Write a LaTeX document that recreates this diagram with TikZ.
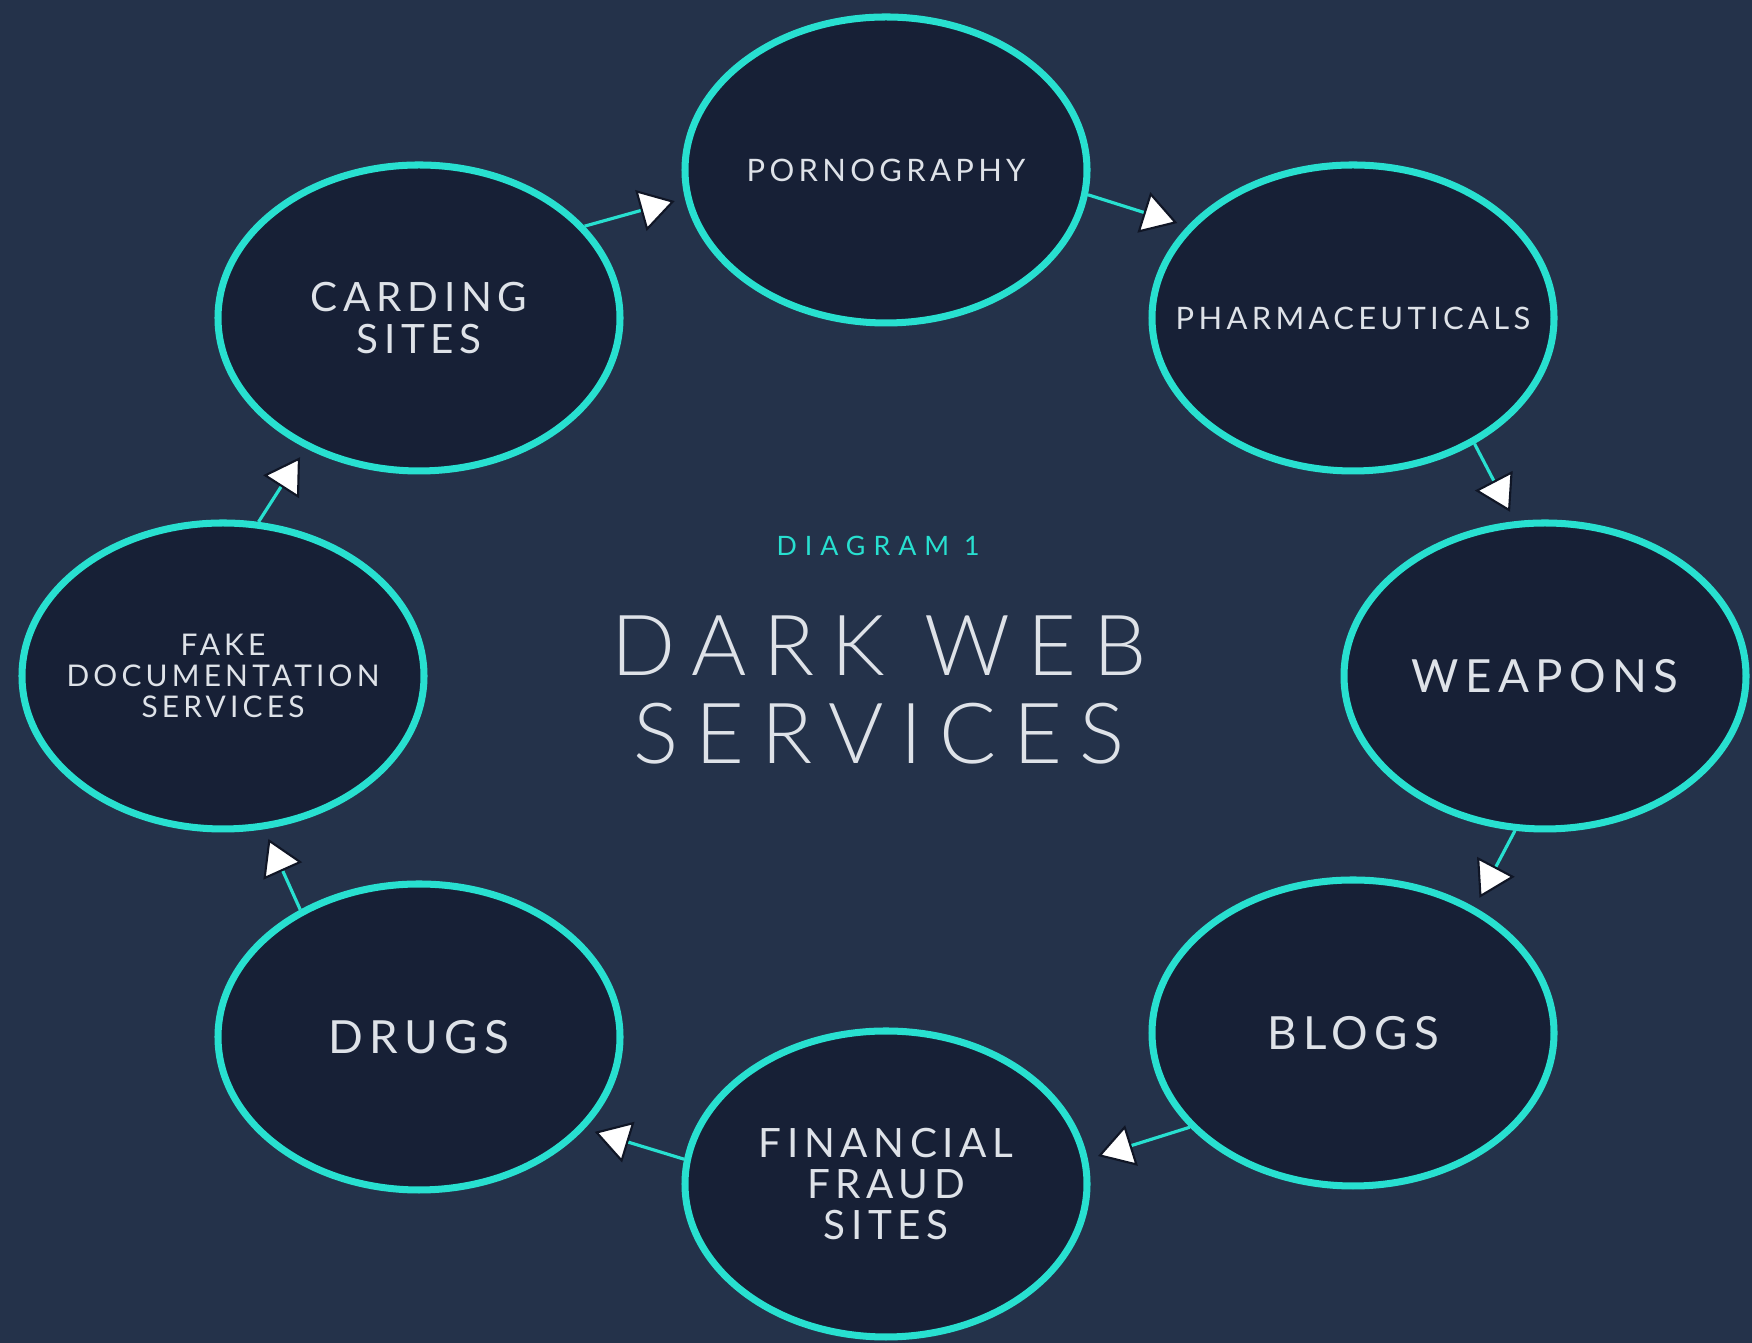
\documentclass[tikz,border=0pt]{standalone}
\usepackage{fontspec}
\setmainfont{Lato}[LetterSpace=14]
\newfontfamily\titlefont{Lato Light}[LetterSpace=20]
\newfontfamily\tagfont{Lato}[LetterSpace=30]
\usepackage{tikz}
\usetikzlibrary{shapes.geometric, arrows.meta, positioning}
\definecolor{mybg}{RGB}{36,50,74}
\definecolor{mynavy}{RGB}{23,32,54}
\definecolor{myteal}{RGB}{40,224,208}
\definecolor{mytext}{RGB}{222,226,232}
\definecolor{myshade}{RGB}{16,22,38}
\tikzset{
  service/.style={ellipse, draw=myteal, fill=mynavy, line width=2pt,
    minimum width=4.02cm, minimum height=3.06cm, inner sep=0pt},
  servtext/.style={align=center, text=mytext, inner sep=0pt,
    font=\fontsize{11.5}{11.7}\selectfont},
  smalltext/.style={servtext, font=\fontsize{8.8}{9}\selectfont},
  bigtext/.style={servtext, font=\fontsize{13}{14}\selectfont},
  arrow/.style={-{Triangle[length=10pt, width=12pt, fill=white, color=myshade, line width=0.6pt]},
    line width=0.9pt, color=myteal, shorten >=3pt}
}

\begin{document}
\begin{tikzpicture}
  % Background
  \fill[mybg] (0,0) rectangle (17.52,13.43);
  \useasboundingbox (0,0) rectangle (17.52,13.43);

  % Services round the ring
  \node[service, label={[smalltext]center:PORNOGRAPHY}] (porn) at (8.86,11.73) {};
  \node[service, label={[smalltext]center:PHARMACEUTICALS}] (pharm) at (13.53,10.25) {};
  \node[service, label={[bigtext]center:WEAPONS}] (weapons) at (15.45,6.67) {};
  \node[service, label={[bigtext]center:BLOGS}] (blogs) at (13.53,3.10) {};
  \node[service, label={[servtext]center:FINANCIAL\\FRAUD\\SITES}] (fraud) at (8.86,1.59) {};
  \node[service, label={[bigtext]center:DRUGS}] (drugs) at (4.19,3.06) {};
  \node[service, label={[servtext, font=\fontsize{8.5}{8.9}\selectfont]center:FAKE\\DOCUMENTATION\\SERVICES}] (fake) at (2.23,6.67) {};
  \node[service, label={[servtext]center:CARDING\\SITES}] (carding) at (4.19,10.25) {};

  % Centre title
  \node[text=myteal, font=\tagfont\fontsize{7.6}{8}\selectfont] (label) at (8.78,7.97) {DIAGRAM 1};
  \node[text=mytext, align=center, font=\titlefont\fontsize{24}{25}\selectfont] (title) at (8.79,6.53) {DARK WEB\\SERVICES};

  % Arrows
  \foreach \from/\a/\to/\b in {carding/29/porn/188, porn/-7/pharm/151, pharm/-46/weapons/101,
    weapons/259/blogs/46, blogs/210/fraud/7, fraud/173/drugs/-29, drugs/133/fake/-75, fake/77/carding/229} {
    \draw[arrow] (\from.\a) -- (\to.\b);
  }
\end{tikzpicture}
\end{document}
